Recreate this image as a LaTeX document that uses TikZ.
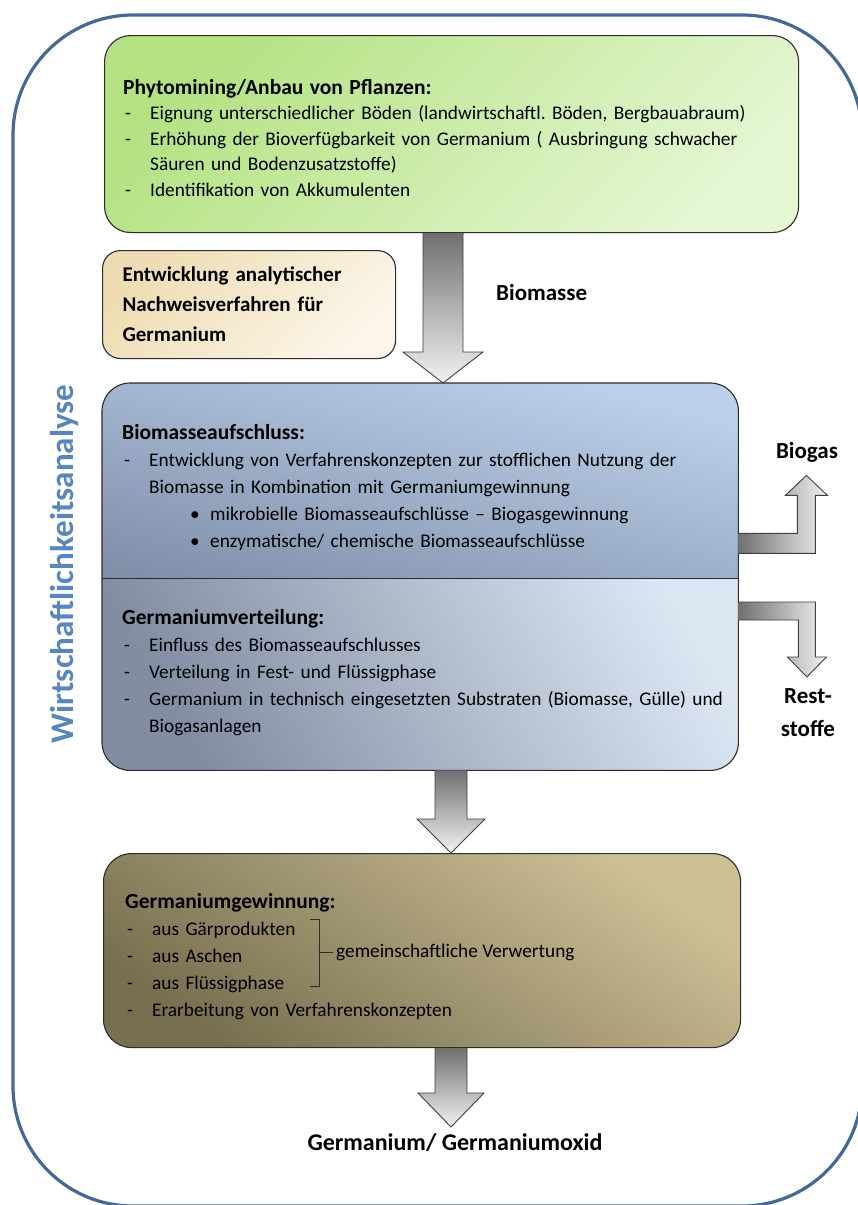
\documentclass[tikz,border=0pt]{standalone}
\usepackage{fontspec}
\setmainfont{Carlito}
\usetikzlibrary{positioning,backgrounds,calc}
\frenchspacing

\definecolor{framecol}{RGB}{65,105,154}
\definecolor{titlecol}{RGB}{88,133,196}
\definecolor{edgecol}{RGB}{45,45,45}
\definecolor{greenA}{RGB}{180,226,130}
\definecolor{greenB}{RGB}{228,246,210}
\definecolor{tanA}{RGB}{238,221,178}
\definecolor{tanB}{RGB}{252,246,234}
\definecolor{blueA}{RGB}{188,208,234}
\definecolor{blueB}{RGB}{126,140,166}
\definecolor{blueC}{RGB}{220,230,243}
\definecolor{blueD}{RGB}{130,141,162}
\definecolor{oliveA}{RGB}{204,192,150}
\definecolor{oliveB}{RGB}{120,111,80}
\definecolor{arrowA}{RGB}{112,112,112}
\definecolor{arrowB}{RGB}{242,242,242}
\definecolor{arrowedge}{RGB}{64,64,64}

\newcommand{\dashitem}[1]{\makebox[27pt][l]{\hspace{2pt}-}#1}
\newcommand{\dashcont}[1]{\hspace*{27pt}#1}
\newcommand{\dotitem}[1]{\hspace*{68pt}\makebox[20pt][l]{•}#1}

\tikzset{
  box/.style={draw=edgecol, line width=1.1pt, anchor=north west, inner sep=0pt},
  greenbox/.style={rounded corners=26pt, top color=greenA, bottom color=greenB, shading angle=45},
  tanbox/.style={rounded corners=18pt, top color=tanA, bottom color=tanB, shading angle=45},
  olivebox/.style={rounded corners=28pt, top color=oliveA, bottom color=oliveB, shading angle=-35},
  boxtext/.style={anchor=north west, inner sep=0pt, text width=700pt, align=left},
  labeltext/.style={inner sep=0pt, font=\fontsize{23}{33}\selectfont\bfseries},
  vflow/.style={draw=arrowedge, line width=0.9pt, top color=arrowA, bottom color=arrowB},
  hflow/.style={draw=arrowedge, line width=0.9pt, left color=arrowA, right color=arrowB}
}

\begin{document}
\begin{tikzpicture}[x=1pt,y=-1pt]
  \useasboundingbox (0,0) rectangle (857,1205);
  % outer frame
  \draw[framecol, line width=3.2pt, rounded corners=120pt] (13,15) rectangle (862,1206);
  \node[rotate=90, anchor=base, text=titlecol, font=\fontsize{33}{33}\selectfont\bfseries] (analyse) at (73,564) {Wirtschaftlichkeitsanalyse};

  % boxes
  \node[box, greenbox, minimum width=694pt, minimum height=197pt] (phyto) at (104,35) {};
  \node[box, tanbox, minimum width=293pt, minimum height=108pt, inner xsep=20pt, text width=253pt, align=left,
    font=\fontsize{21}{30}\selectfont\bfseries] (nachweis) at (102,250)
    {Entwicklung analytischer\\Nachweisverfahren für\\Germanium};
  \node[anchor=north west, inner sep=0pt, minimum width=636pt, minimum height=195pt] (aufschluss) at (102,383) {};
  \node[anchor=north west, inner sep=0pt, minimum width=636pt, minimum height=192pt] (verteilung) at (102,578) {};
  \node[box, olivebox, minimum width=637pt, minimum height=194pt] (gewinnung) at (103,853) {};

  \begin{scope}[on background layer]
    \fill[white] (0,0) rectangle (857,1205);
    \begin{scope}
      \clip (aufschluss.north west) rectangle (aufschluss.south east);
      \shade[top color=blueA, bottom color=blueB, shading angle=-15, rounded corners=28pt]
        (aufschluss.north west) rectangle ([yshift=-40pt]aufschluss.south east);
    \end{scope}
    \begin{scope}
      \clip (verteilung.north west) rectangle (verteilung.south east);
      \shade[top color=blueC, bottom color=blueD, shading angle=-60, rounded corners=28pt]
        ([yshift=40pt]verteilung.north west) rectangle (verteilung.south east);
    \end{scope}
  \end{scope}
  \draw[edgecol, line width=1.1pt, rounded corners=28pt] (aufschluss.north west) rectangle (verteilung.south east);
  \draw[edgecol, line width=1.3pt] (aufschluss.south west) -- (aufschluss.south east);

  % texts in the boxes
  \node[boxtext, font=\fontsize{19.3}{25.5}\selectfont, below right=44pt and 19pt of phyto.north west] (phytotext)
    {\textbf{\fontsize{21.5}{25.5}\selectfont Phytomining/Anbau von Pflanzen:}\\
     \dashitem{Eignung unterschiedlicher Böden (landwirtschaftl. Böden, Bergbauabraum)}\\
     \dashitem{Erhöhung der Bioverfügbarkeit von Germanium ( Ausbringung schwacher}\\
     \dashcont{Säuren und Bodenzusatzstoffe)}\\
     \dashitem{Identifikation von Akkumulenten}};
  \node[boxtext, font=\fontsize{19.3}{27}\selectfont, below right=41pt and 20pt of aufschluss.north west] (aufschlusstext)
    {\textbf{\fontsize{21.5}{27}\selectfont Biomasseaufschluss:}\\
     \dashitem{Entwicklung von Verfahrenskonzepten zur stofflichen Nutzung der}\\
     \dashcont{Biomasse in Kombination mit Germaniumgewinnung}\\
     \dotitem{mikrobielle Biomasseaufschlüsse – Biogasgewinnung}\\
     \dotitem{enzymatische/ chemische Biomasseaufschlüsse}};
  \node[boxtext, font=\fontsize{19.3}{27}\selectfont, below right=31pt and 20pt of verteilung.north west] (verteilungtext)
    {\textbf{\fontsize{21.5}{27}\selectfont Germaniumverteilung:}\\
     \dashitem{Einfluss des Biomasseaufschlusses}\\
     \dashitem{Verteilung in Fest- und Flüssigphase}\\
     \dashitem{Germanium in technisch eingesetzten Substraten (Biomasse, Gülle) und}\\
     \dashcont{Biogasanlagen}};
  \node[boxtext, font=\fontsize{19.3}{27}\selectfont, below right=40pt and 22pt of gewinnung.north west] (gewinnungtext)
    {\textbf{\fontsize{21.5}{27}\selectfont Germaniumgewinnung:}\\
     \dashitem{aus Gärprodukten}\\
     \dashitem{aus Aschen}\\
     \dashitem{aus Flüssigphase}\\
     \dashitem{Erarbeitung von Verfahrenskonzepten}};
  \node[anchor=west, inner sep=0pt, font=\fontsize{19.3}{27}\selectfont] (verwertung) at (336,952) {gemeinschaftliche Verwertung};
  \draw[edgecol, line width=1pt] (310,919) -- (319,919) -- (319,986) -- (310,986)
    (319,952) -- ([xshift=-3pt]verwertung.west);

  % labels
  \node[labeltext, anchor=west] (biomasse) at (496,293) {Biomasse};
  \node[labeltext] (biogas) at (807,452) {Biogas};
  \node[labeltext, align=center] (reststoffe) at (808,713) {Rest-\\stoffe};
  \node[labeltext, font=\fontsize{24}{30}\selectfont\bfseries] (produkt) at (455,1143) {Germanium/ Germaniumoxid};
  \coordinate (prodtip) at (451,1127);

  % arrows
  \shadedraw[vflow] let \p1=(phyto.south), \p2=(aufschluss.north) in
    (423pt,\y1) -- (423pt,\y2+31pt) -- (403pt,\y2+31pt) -- (443pt,\y2) -- (483pt,\y2+31pt) -- (463pt,\y2+31pt) -- (463pt,\y1);
  \shadedraw[vflow] let \p1=(verteilung.south), \p2=(gewinnung.north) in
    (435pt,\y1) -- (435pt,\y2+34pt) -- (417pt,\y2+34pt) -- (451pt,\y2) -- (485pt,\y2+34pt) -- (467pt,\y2+34pt) -- (467pt,\y1);
  \shadedraw[vflow] let \p1=(gewinnung.south), \p2=(prodtip) in
    (435pt,\y1) -- (435pt,\y2+34pt) -- (418pt,\y2+34pt) -- (451pt,\y2) -- (484pt,\y2+34pt) -- (467pt,\y2+34pt) -- (467pt,\y1);
  \begin{scope}[shift={(aufschluss.south east)}]
    \shadedraw[hflow] (0,-45) -- (59,-45) -- (59,-83) -- (47,-83) -- (68,-103) -- (89,-83) -- (77,-83) -- (77,-25) -- (0,-25);
  \end{scope}
  \begin{scope}[shift={(verteilung.north east)}]
    \shadedraw[hflow] (0,24) -- (77,24) -- (77,79) -- (88,79) -- (68.5,99) -- (49,79) -- (60,79) -- (60,42) -- (0,42);
  \end{scope}
\end{tikzpicture}
\end{document}
